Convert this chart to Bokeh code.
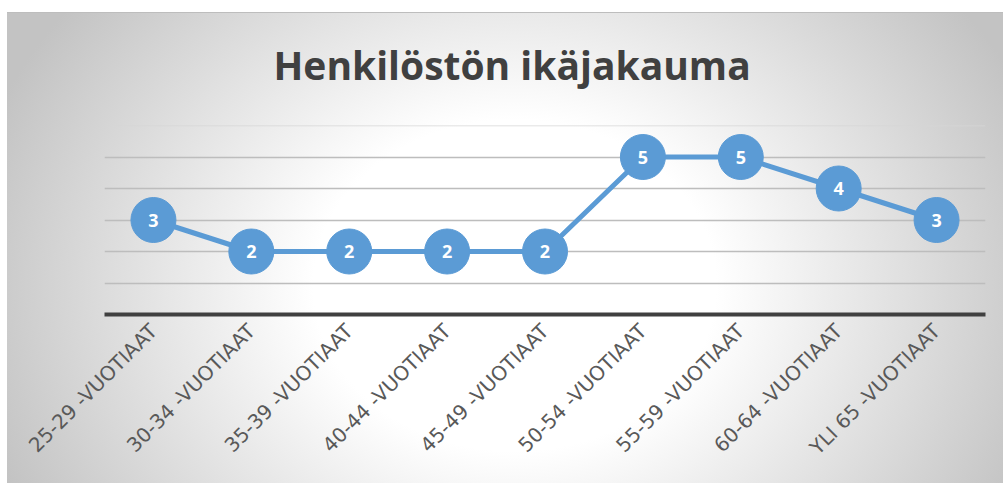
from math import pi
from bokeh.plotting import figure
from bokeh.models import FactorRange, Range1d, ColumnDataSource, LabelSet, FixedTicker, Span
from bokeh.core.properties import value
from bokeh.embed import file_html
from bokeh.resources import INLINE

categories = ["25-29 -VUOTIAAT", "30-34 -VUOTIAAT", "35-39 -VUOTIAAT", "40-44 -VUOTIAAT",
              "45-49 -VUOTIAAT", "50-54 -VUOTIAAT", "55-59 -VUOTIAAT", "60-64 -VUOTIAAT",
              "YLI 65 -VUOTIAAT"]
counts = [3, 2, 2, 2, 2, 5, 5, 4, 3]
y_grid_values = [0, 1, 2, 3, 4, 5, 6]
title_text = "Henkilöstön ikäjakauma"

BLUE = "#5B9BD5"

source = ColumnDataSource(data=dict(cat=categories, n=counts, label=[str(v) for v in counts]))

p = figure(x_range=FactorRange(*categories, range_padding=0),
           y_range=Range1d(y_grid_values[0], y_grid_values[-1]),
           width=1003, height=483, output_backend="svg", toolbar_location=None,
           min_border_left=104, min_border_right=18, min_border_top=125, min_border_bottom=169)

p.background_fill_alpha = 0
p.border_fill_alpha = 0
p.outline_line_color = None
p.styles = {
    "background": (
        "linear-gradient(#ffffff,#ffffff) 0 0 / 100% 12px no-repeat, "
        "linear-gradient(#ffffff,#ffffff) 0 0 / 7px 100% no-repeat, "
        "linear-gradient(#bdbdbd,#bdbdbd) 7px 12px / 100% 1px no-repeat, "
        "radial-gradient(ellipse 560px 460px at 51% 58%, #ffffff 0%, #ffffff 36%, #c3c3c3 100%) 7px 13px / calc(100% - 7px) calc(100% - 13px) no-repeat"
    )
}

p.title.text = title_text
p.title.align = "left"
p.title.offset = 169
p.title.standoff = 70
p.title.text_font = "Open Sans"
p.title.text_font_size = "39px"
p.title.text_font_style = "bold"
p.title.text_color = "#404040"

p.yaxis.visible = False
p.xgrid.grid_line_color = None
p.ygrid.ticker = FixedTicker(ticks=y_grid_values)
p.ygrid.grid_line_color = "#bdbdbd"
p.ygrid.grid_line_width = 1.5
p.add_layout(Span(location=y_grid_values[-1], dimension="width", line_color="#d6d6d6", line_width=1.5))

p.xaxis.axis_line_color = "#404040"
p.xaxis.axis_line_width = 4
p.xaxis.major_tick_line_color = None
p.xaxis.minor_tick_line_color = None
p.xaxis.major_label_orientation = pi / 4
p.xaxis.major_label_text_font = "DejaVu Sans"
p.xaxis.major_label_text_font_size = "20px"
p.xaxis.major_label_text_color = "#595959"
p.xaxis.major_label_standoff = 7

p.line(x="cat", y="n", source=source, line_color=BLUE, line_width=5)
p.scatter(x="cat", y="n", source=source, size=45, fill_color=BLUE, line_color=BLUE)
labels = LabelSet(x="cat", y="n", text="label", source=source, text_align="center",
                  text_baseline="middle", text_color="white", text_font=value("Open Sans"),
                  text_font_size="18px", text_font_style="bold")
p.add_layout(labels)

open("out.html", "w").write(file_html(p, INLINE))
